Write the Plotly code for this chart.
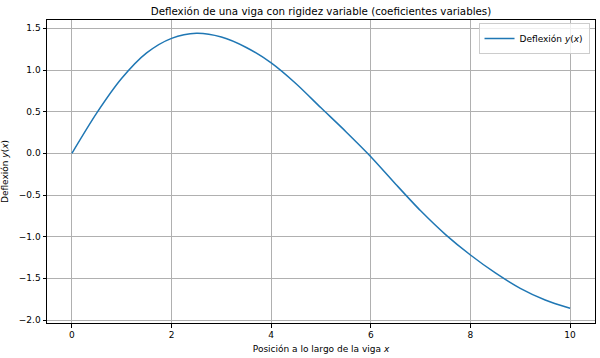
import plotly.graph_objects as go

x_vals = [0, 0.5, 1, 1.5, 2, 2.5, 3, 3.5, 4, 4.5, 5, 5.5, 6, 6.5, 7, 7.5, 8, 8.5, 9, 9.5, 10]
y_vals = [0.0, 0.485, 0.9, 1.205, 1.38, 1.44, 1.395, 1.27, 1.085, 0.835, 0.546, 0.26, -0.04,
          -0.37, -0.69, -0.975, -1.22, -1.435, -1.62, -1.76, -1.86]
x_ticks = [0, 2, 4, 6, 8, 10]
y_ticks = [-2.0, -1.5, -1.0, -0.5, 0.0, 0.5, 1.0, 1.5]

fig = go.Figure()
fig.add_trace(go.Scatter(x=x_vals, y=y_vals, mode="lines",
                         line=dict(color="#1f77b4", width=1.5, shape="spline", smoothing=0.8),
                         name="Deflexión <i>y</i>(<i>x</i>)"))

axis_common = dict(showline=True, linecolor="black", linewidth=1, mirror=True, ticks="outside", ticklen=3.5,
                   tickcolor="black", showgrid=True, gridcolor="#b0b0b0", gridwidth=0.8, zeroline=False,
                   tickfont=dict(size=9, color="black"))
fig.update_xaxes(range=[-0.5, 10.5], tickvals=x_ticks, ticktext=[str(t) for t in x_ticks],
                 title=dict(text="Posición a lo largo de la viga <i>x</i>", font=dict(size=9, color="black"), standoff=6),
                 **axis_common)
fig.update_yaxes(range=[-2.036, 1.6], tickvals=y_ticks, ticktext=[f"{t:.1f}".replace("-", "−") for t in y_ticks],
                 title=dict(text="Deflexión <i>y</i>(<i>x</i>)", font=dict(size=9, color="black"), standoff=8),
                 **axis_common)
fig.update_layout(
    width=600, height=358,
    margin=dict(l=47, r=5, t=20, b=35),
    paper_bgcolor="white", plot_bgcolor="white",
    font=dict(family="DejaVu Sans", size=9, color="black"),
    title=dict(text="Deflexión de una viga con rigidez variable (coeficientes variables)", x=0.5, xref="paper",
               y=0.968, yanchor="middle", font=dict(size=10.3, color="black")),
    showlegend=True,
    legend=dict(x=0.99, y=0.99, xanchor="right", yanchor="top", bordercolor="#cccccc", borderwidth=1,
                bgcolor="rgba(255,255,255,0.8)", font=dict(size=9)),
)
fig.write_html("out.html")
